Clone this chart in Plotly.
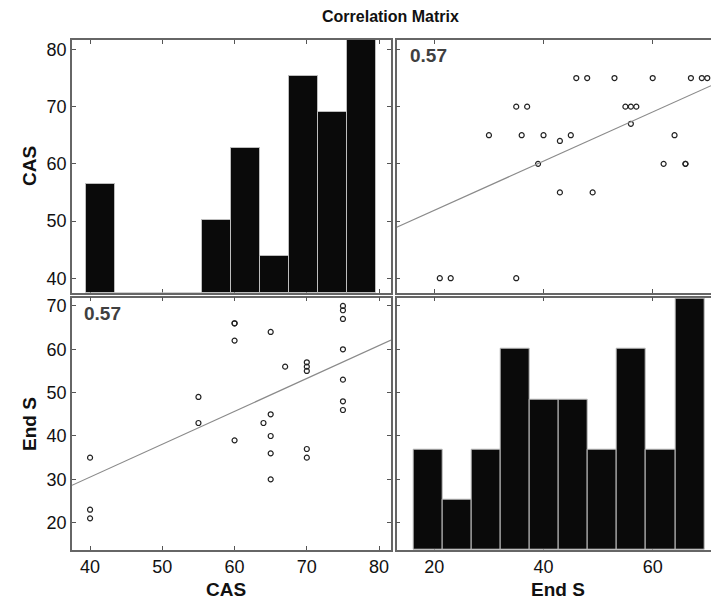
import numpy as np
import plotly.graph_objects as go

# ---- data ----
cas = [40, 40, 40, 55, 55, 60, 60, 60, 60, 64, 65, 65, 65, 65, 65, 67,
       70, 70, 70, 70, 70, 75, 75, 75, 75, 75, 75, 75]
end_s = [35, 23, 21, 49, 43, 66, 66, 62, 39, 43, 64, 45, 40, 36, 30, 56,
         57, 56, 55, 37, 35, 70, 69, 67, 60, 53, 48, 46]

cas_bin_edges = [40, 43.5, 47, 50.5, 54, 57.5, 61, 64.5, 68, 71.5, 75]
cas_counts = [3, 0, 0, 0, 2, 4, 1, 6, 5, 7]
ends_bin_edges = [21, 25.9, 30.8, 35.7, 40.6, 45.5, 50.4, 55.3, 60.2, 65.1, 70]
ends_counts = [2, 1, 2, 4, 3, 3, 2, 4, 2, 5]

corr_label = "0.57"
cas_ticks = [40, 50, 60, 70, 80]
ends_yticks = [20, 30, 40, 50, 60, 70]
ends_xticks = [20, 40, 60]

# ---- axis ranges / layout constants ----
CAS_RANGE = [37.5, 81.65]
ENDS_XRANGE = [13.1, 70.68]
ENDS_YRANGE = [13.7, 71.9]
CAS_HIST_X = [38.27, 76.81]
CAS_HIST_Y = [0, 7.0]
ENDS_HIST_X = [18.2, 71.13]
ENDS_HIST_Y = [0, 5.02]

LEFT_DOM = [0, 0.4992]
RIGHT_DOM = [0.5081, 1]
TOP_DOM = [0.5049, 1]
BOT_DOM = [0, 0.4947]

FONT = "Liberation Sans, Arial, sans-serif"
LINE_COL = "#666666"
BAR_FILL = "#0a0a0a"
BAR_EDGE = "#bdbdbd"

def centers(edges):
    e = np.asarray(edges, dtype=float)
    return (e[:-1] + e[1:]) / 2, np.diff(e)

fig = go.Figure()

marker = dict(symbol="circle-open", size=5, color="#222222", line=dict(width=1.2))

# bottom-left: CAS (x) vs End S (y)
fig.add_trace(go.Scatter(x=cas, y=end_s, mode="markers", marker=marker,
                         xaxis="x", yaxis="y", showlegend=False))
b1, a1 = np.polyfit(cas, end_s, 1)
lx1 = np.array(CAS_RANGE)
fig.add_trace(go.Scatter(x=lx1, y=a1 + b1 * lx1, mode="lines",
                         line=dict(color="#8a8a8a", width=1.2),
                         xaxis="x", yaxis="y", showlegend=False))

# top-left frame axes (x2/y2) get an empty trace so the subplot exists
fig.add_trace(go.Scatter(x=[], y=[], xaxis="x2", yaxis="y2", showlegend=False))

# top-left histogram of CAS (own hidden axes x3/y3, same domain)
cx, cw = centers(cas_bin_edges)
fig.add_trace(go.Bar(x=cx, y=cas_counts, width=cw, xaxis="x3", yaxis="y3",
                     marker=dict(color=BAR_FILL, line=dict(color=BAR_EDGE, width=1)),
                     showlegend=False))

# top-right: End S (x) vs CAS (y)
fig.add_trace(go.Scatter(x=end_s, y=cas, mode="markers", marker=marker,
                         xaxis="x4", yaxis="y4", showlegend=False))
b2, a2 = np.polyfit(end_s, cas, 1)
lx2 = np.array(ENDS_XRANGE)
fig.add_trace(go.Scatter(x=lx2, y=a2 + b2 * lx2, mode="lines",
                         line=dict(color="#8a8a8a", width=1.2),
                         xaxis="x4", yaxis="y4", showlegend=False))

fig.add_trace(go.Scatter(x=[], y=[], xaxis="x5", yaxis="y5", showlegend=False))

# bottom-right histogram of End S (hidden axes x6/y6)
ex, ew = centers(ends_bin_edges)
fig.add_trace(go.Bar(x=ex, y=ends_counts, width=ew, xaxis="x6", yaxis="y6",
                     marker=dict(color=BAR_FILL, line=dict(color=BAR_EDGE, width=1)),
                     showlegend=False))

def ax(domain, rng, anchor, ticks, labels=True, mirror="ticks"):
    return dict(domain=domain, range=rng, anchor=anchor, tickvals=ticks,
                showticklabels=labels, ticks="inside", ticklen=4, tickwidth=1,
                tickcolor="#555555", showline=True, linecolor=LINE_COL, linewidth=1.5,
                mirror=mirror, showgrid=False, zeroline=False, fixedrange=True,
                automargin=False,
                tickfont=dict(family=FONT, size=18, color="#111111"))

def hid(domain, rng, anchor):
    return dict(domain=domain, range=rng, anchor=anchor, visible=False,
                showgrid=False, zeroline=False, fixedrange=True)

fig.update_layout(
    width=711, height=602,
    margin=dict(l=72, r=0, t=40, b=52),
    paper_bgcolor="white", plot_bgcolor="rgba(0,0,0,0)",
    bargap=0,
    hovermode=False,
    xaxis=ax(LEFT_DOM, CAS_RANGE, "y", cas_ticks),
    yaxis=ax(BOT_DOM, ENDS_YRANGE, "x", ends_yticks),
    xaxis2=ax(LEFT_DOM, CAS_RANGE, "y2", cas_ticks, labels=False),
    yaxis2=ax(TOP_DOM, CAS_RANGE, "x2", cas_ticks),
    xaxis3=hid(LEFT_DOM, CAS_HIST_X, "y3"),
    yaxis3=hid(TOP_DOM, CAS_HIST_Y, "x3"),
    xaxis4=ax(RIGHT_DOM, ENDS_XRANGE, "y4", ends_xticks, labels=False),
    yaxis4=ax(TOP_DOM, CAS_RANGE, "x4", cas_ticks, labels=False, mirror=False),
    xaxis5=ax(RIGHT_DOM, ENDS_XRANGE, "y5", ends_xticks),
    yaxis5=ax(BOT_DOM, ENDS_YRANGE, "x5", ends_yticks, labels=False, mirror=False),
    xaxis6=hid(RIGHT_DOM, ENDS_HIST_X, "y6"),
    yaxis6=hid(BOT_DOM, ENDS_HIST_Y, "x6"),
)

lab = dict(family=FONT, size=19, color="#111111")
ann = [
    dict(text="<b>Correlation Matrix</b>", xref="paper", yref="paper", x=0.4992, y=1.0451,
         xanchor="center", yanchor="middle", showarrow=False,
         font=dict(family=FONT, size=16, color="#111111")),
    dict(text="<b>CAS</b>", xref="paper", yref="paper", x=-0.0673, y=0.7529,
         textangle=-90, xanchor="center", yanchor="middle", showarrow=False, font=lab),
    dict(text="<b>End S</b>", xref="paper", yref="paper", x=-0.0673, y=0.247,
         textangle=-90, xanchor="center", yanchor="middle", showarrow=False, font=lab),
    dict(text="<b>CAS</b>", xref="paper", yref="paper", x=0.241, y=-0.0784,
         xanchor="center", yanchor="middle", showarrow=False, font=lab),
    dict(text="<b>End S</b>", xref="paper", yref="paper", x=0.7606, y=-0.0784,
         xanchor="center", yanchor="middle", showarrow=False, font=lab),
    dict(text="<b>" + corr_label + "</b>", xref="x4 domain", yref="y4 domain", x=0.036, y=0.939,
         xanchor="left", yanchor="middle", showarrow=False,
         font=dict(family=FONT, size=19, color="#404040")),
    dict(text="<b>" + corr_label + "</b>", xref="x domain", yref="y domain", x=0.031, y=0.938,
         xanchor="left", yanchor="middle", showarrow=False,
         font=dict(family=FONT, size=19, color="#404040")),
]
fig.update_layout(annotations=ann)

fig.write_html("out.html",
               config={"displayModeBar": False},
               post_script="document.body.style.margin='0';document.body.style.overflow='hidden';")
